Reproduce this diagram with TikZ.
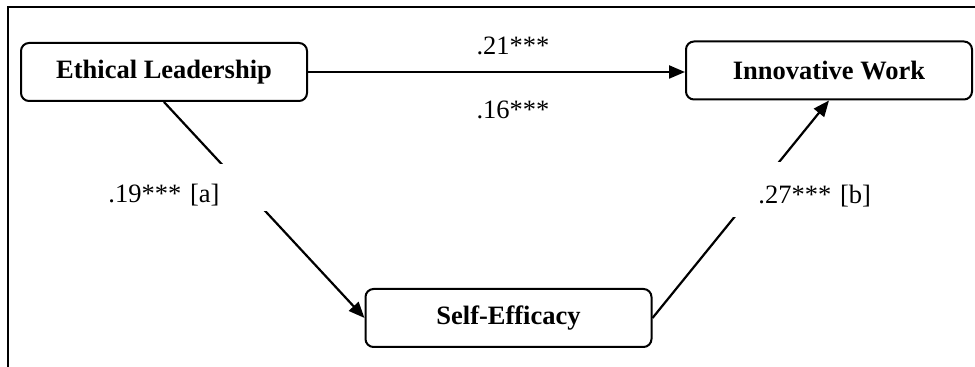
\documentclass[tikz,border=0pt]{standalone}
\usepackage{fontspec}
\setmainfont{Liberation Serif}
\usetikzlibrary{arrows.meta}
\begin{document}
\begin{tikzpicture}[x=0.5pt,y=-0.5pt,
  box/.style={draw,line width=1pt,rounded corners=4pt,minimum width=143pt,minimum height=29pt,inner sep=0pt,font=\fontsize{13.25}{15}\selectfont\bfseries},
  conn/.style={line width=1.1pt,-{Triangle[length=8pt,width=6.5pt]}},
  lab/.style={font=\fontsize{13.25}{15}\selectfont},
  gaplab/.style={lab,fill=white,align=left,inner ysep=0pt}]
\useasboundingbox (0,0) rectangle (975,367);
\draw[line width=1.35pt] (8,367) -- (8,7) -- (975,7);
\node[box] (el) at (164,72) {Ethical Leadership};
\node[box] (iw) at (829,70.5) {Innovative Work};
\node[box] (se) at (508.5,318) {Self-Efficacy};
\draw[conn] (el.east) -- (el.east -| iw.west);
\draw[conn] (el.south) -- (se.west);
\draw[conn] (se.east) -- (iw.south);
\node[lab] (l21) at (513,46) {.21***};
\node[lab] (l16) at (513,110) {.16***};
\node[gaplab,anchor=north west,text width=76pt,inner xsep=4pt,text height=19pt,text depth=4.5pt] (la) at (100,164) {.19*** [a]};
\node[gaplab,anchor=north west,text width=62pt,inner xsep=14pt,text height=20.5pt,text depth=7pt] (lb) at (730,162) {.27*** [b]};
\end{tikzpicture}
\end{document}
